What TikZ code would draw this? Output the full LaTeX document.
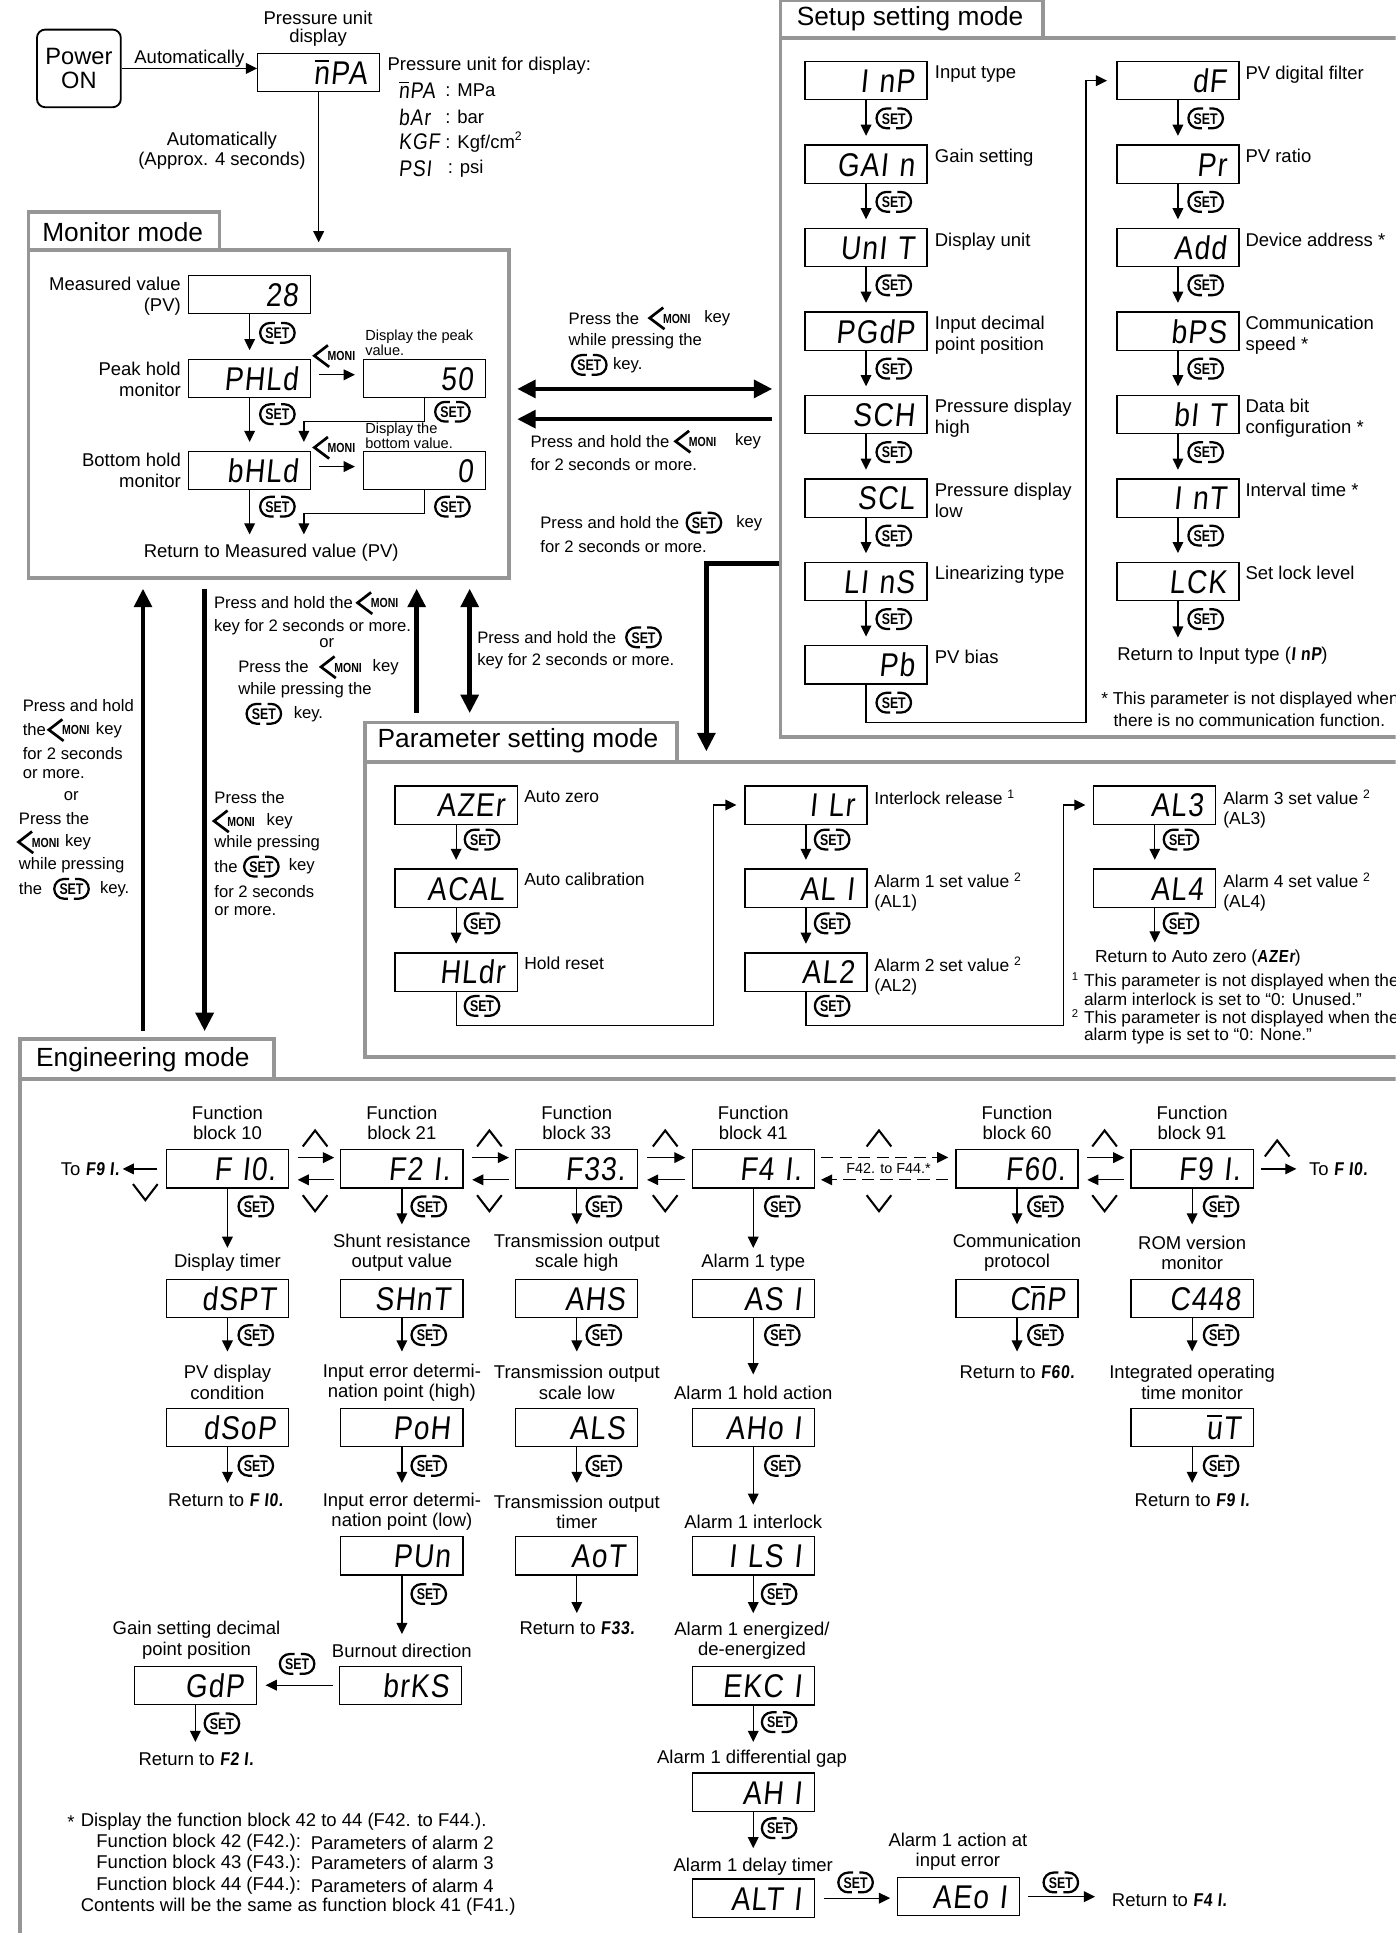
\documentclass[tikz,border=0pt]{standalone}
\usepackage{fontspec}
\setmainfont{Liberation Sans}
\newfontfamily\segfont[FakeSlant=0.1,FakeStretch=0.85,LetterSpace=4]{Liberation Sans}
\newfontfamily\keyfont[FakeStretch=0.8]{Liberation Sans}
\usetikzlibrary{arrows.meta,fit,calc}
\definecolor{framegray}{RGB}{150,150,150}
\newcommand\nbar{\leavevmode\rlap{\kern0.03em\rule[0.68em]{0.44em}{0.06em}}n}
\newcommand\ubar{\leavevmode\rlap{\kern0.03em\rule[0.68em]{0.44em}{0.06em}}u}
\newcommand\sg[1]{{\segfont\bfseries #1}}
\tikzset{
  tT/.tip={Triangle[length=5.4pt,width=5.2pt]},
  TT/.tip={Triangle[length=9pt,width=8.5pt]},
  arr/.style={line width=0.6pt,-tT},
  ln/.style={line width=0.6pt},
  tharr/.style={line width=2.2pt,-TT},
  tharrb/.style={line width=2.2pt,TT-TT},
  disp/.style={draw,line width=0.6pt,minimum width=59.4pt,minimum height=18.6pt,inner sep=0pt,text width=47pt,align=right,text height=11.6pt,text depth=0pt,font=\segfont\fontsize{16}{16}\selectfont},
  frame/.style={draw=framegray,line width=1.8pt,inner sep=0pt},
  title/.style={anchor=west,inner sep=0pt,font=\fontsize{12.8}{14}\selectfont},
  lab/.style={inner sep=0pt,align=center,font=\fontsize{9}{9.8}\selectfont},
  labl/.style={inner sep=0pt,align=left,anchor=north west,font=\fontsize{9}{10.2}\selectfont},
  plab/.style={inner sep=0pt,align=left,anchor=north west,font=\fontsize{8.5}{9.6}\selectfont},
  ann/.style={inner sep=0pt,anchor=west,font=\fontsize{8.1}{9}\selectfont},
  small/.style={inner sep=0pt,align=left,anchor=west,font=\fontsize{7.1}{7.2}\selectfont},
  fn/.style={inner sep=0pt,anchor=west,font=\fontsize{8.4}{8.4}\selectfont},
  segi/.style={inner sep=0pt,anchor=west,font=\segfont\fontsize{11}{11}\selectfont},
  setk/.pic={
    \draw[line width=1.1pt] (-2,-8) -- (-6,-8) arc[start angle=-90,end angle=-270,radius=8] -- (-3,8);
    \draw[line width=1.1pt] (2,8) -- (6,8) arc[start angle=90,end angle=-90,radius=8] -- (3,-8);
    \node[inner sep=0pt,font={\keyfont\bfseries\fontsize{7.5}{7.5}\selectfont}] at (0,0.3) {SET};
  },
  moni/.pic={
    \draw[line width=1.3pt] (11,-8.5) -- (0,0) -- (12,9);
    \node[anchor=west,inner sep=0pt,font={\keyfont\bfseries\fontsize{6.4}{6.4}\selectfont}] at (10.5,0.5) {MONI};
  },
  upc/.pic={\draw[line width=1pt] (-10,6.5) -- (0,-6.5) -- (10,6.5);},
  dnc/.pic={\draw[line width=1pt] (-10,-6.5) -- (0,6.5) -- (10,-6.5);},
}
\begin{document}
\begin{tikzpicture}[x=0.6pt,y=-0.6pt]
\useasboundingbox (0,0) rectangle (1132,1568);
\clip (0,0) rectangle (1132,1568);

% ---------- frames ----------
\node[frame,fit={(23,203)(413,469)}] (monbox) {};
\node[frame,fit={(23,172)(178,203)}] (montab) {};
\node[title] at (34,188) {Monitor mode};
\node[frame,fit={(633,31)(1150,598)}] (setbox) {};
\node[frame,fit={(633,0)(846,31)}] (settab) {};
\node[title] at (646,15) {Setup setting mode};
\node[frame,fit={(296,618)(1150,857.5)}] (parbox) {};
\node[frame,fit={(296,586)(549,618)}] (partab) {};
\node[title] at (306,601) {Parameter setting mode};
\node[frame,fit={(16,875)(1150,1600)}] (engbox) {};
\node[frame,fit={(16,843)(222,875)}] (engtab) {};
\node[title] at (29,860) {Engineering mode};

% ---------- top ----------
\node[draw,line width=0.9pt,rounded corners=4pt,minimum width=40.8pt,minimum height=37.8pt,inner sep=0pt,align=center,font=\fontsize{11.5}{12}\selectfont] (pwr) at (64,55.5) {Power\\ON};
\node[disp] (mpa) at (258.5,59) {\nbar PA};
\node[lab,font=\fontsize{9}{8.9}\selectfont] at (258,23.5) {Pressure unit\\display};
\draw[arr] (pwr.east) -- (pwr.east -| mpa.west) node[midway,above=0.4pt,lab] {Automatically};
\draw[arr,shorten >=3pt] (mpa.south) -- (mpa.south |- monbox.north);
\node[lab,font=\fontsize{9}{9.6}\selectfont] at (180,122) {Automatically\\(Approx. 4 seconds)};
\node[lab,anchor=west] at (314,53) {Pressure unit for display:};
\node[segi] at (323,73) {\nbar PA}; \node[lab,anchor=west] at (361,73) {: MPa};
\node[segi] at (323,95) {bAr}; \node[lab,anchor=west] at (361,95) {: bar};
\node[segi] at (323,115) {KGF}; \node[lab,anchor=west] at (361,115) {: Kgf/cm\textsuperscript{2}};
\node[segi] at (323,137) {PSI}; \node[lab,anchor=west] at (363,137) {: psi};

% ---------- monitor mode ----------
\node[disp] (pv) at (202.5,239) {28};
\node[disp] (phld) at (202.5,307) {PHLd};
\node[disp] (bhld) at (202.5,381.5) {bHLd};
\node[disp] (peak) at (344.5,307) {50};
\node[disp] (bot) at (344.5,381.5) {0};
\node[lab,align=right,anchor=east,font=\fontsize{9}{10.2}\selectfont] at (147,240.5) {Measured value\\(PV)};
\node[lab,align=right,anchor=east,font=\fontsize{9}{10.2}\selectfont] at (147,307.5) {Peak hold\\monitor};
\node[lab,align=right,anchor=east,font=\fontsize{9}{10.2}\selectfont] at (147,381.5) {Bottom hold\\monitor};
\draw[arr,shorten >=4.2pt] (pv.south) -- (phld.north);
\pic at (225,270) {setk};
\draw[arr,shorten >=4.2pt] (phld.south) -- (bhld.north);
\pic at (225,336) {setk};
\draw[arr,shorten <=3.6pt,shorten >=4pt] ([yshift=1.8pt]phld.east) -- ([yshift=1.8pt]peak.west);
\pic at (255,288.6) {moni};
\node[small] at (296,278) {Display the peak\\value.};
\draw[arr,shorten <=3.6pt,shorten >=4pt] ([yshift=1.8pt]bhld.east) -- ([yshift=1.8pt]bot.west);
\pic at (255,363) {moni};
\node[small] at (296,353.5) {Display the\\bottom value.};
\draw[arr] (peak.south) -- ++(0,19) -| ([xshift=-3.6pt,yshift=4.2pt]bhld.north east);
\pic at (367,334) {setk};
\node[lab] (retpv) at (220,448) {Return to Measured value (PV)};
\draw[arr] (bhld.south) -- ++(0,36);
\pic at (225,411) {setk};
\draw[arr] (bot.south) -- ++(0,19) -| ($(bhld.south east)+(-6,36)$);
\pic at (367,411) {setk};

% ---------- mode transitions ----------
\draw[tharrb,shorten <=3pt,shorten >=3pt] (monbox.east |- 0,315.5) -- (setbox.west |- 0,315.5);
\draw[tharr,shorten <=3pt,shorten >=3pt] (setbox.west |- 0,340) -- (monbox.east |- 0,340);
\draw[tharr,shorten >=4.2pt] (setbox.west |- 0,457) -| (parbox.north -| 573,0);
\node[ann] at (461,258) {Press the}; \pic at (527,258) {moni}; \node[ann] at (571,258) {key};
\node[ann] at (461,277) {while pressing the};
\pic at (478,296) {setk}; \node[ann] at (497,296) {key.};
\node[ann] at (430,358) {Press and hold the}; \pic at (548,358) {moni}; \node[ann] at (596,358) {key};
\node[ann] at (430,377) {for 2 seconds or more.};
\node[ann] at (438,424) {Press and hold the}; \pic at (571,424) {setk}; \node[ann] at (597,424) {key};
\node[ann] at (438,443) {for 2 seconds or more.};

\draw[tharr,shorten <=3pt,shorten >=4.2pt] (engtab.north -| 116,0) -- (monbox.south -| 116,0);
\draw[tharr,shorten <=4.2pt,shorten >=3pt] (monbox.south -| 166,0) -- (engtab.north -| 166,0);
\draw[tharr,shorten <=3.6pt,shorten >=4.2pt] (partab.north -| 338,0) -- (monbox.south -| 338,0);
\draw[tharrb,shorten <=4.2pt,shorten >=3.6pt] (monbox.south -| 381,0) -- (partab.north -| 381,0);

\node[ann] at (18.2,572) {Press and hold};
\node[ann] at (18.2,592) {the}; \pic at (39.6,592) {moni}; \node[ann] at (77.5,592) {key};
\node[ann] at (18.2,611) {for 2 seconds};
\node[ann] at (18.2,628) {or more.};
\node[ann,anchor=center] at (57.8,646) {or};
\node[ann] at (15,664) {Press the};
\pic at (15,683) {moni}; \node[ann] at (52.5,683) {key};
\node[ann] at (15,702) {while pressing};
\node[ann] at (15,721) {the}; \pic at (58,721) {setk}; \node[ann] at (80.8,721) {key.};

\node[ann] at (173.6,647) {Press the};
\pic at (173.6,666) {moni}; \node[ann] at (216,666) {key};
\node[ann] at (173.6,684) {while pressing};
\node[ann] at (173.6,703) {the}; \pic at (212,703) {setk}; \node[ann] at (234,703) {key};
\node[ann] at (173.6,723) {for 2 seconds};
\node[ann] at (173.6,739) {or more.};

\node[ann] at (173.3,489) {Press and hold the}; \pic at (290,489) {moni};
\node[ann] at (173.3,509) {key for 2 seconds or more.};
\node[ann,anchor=center] at (265,522) {or};
\node[ann] at (193,541) {Press the}; \pic at (260.4,541) {moni}; \node[ann] at (302,541) {key};
\node[ann] at (193,560) {while pressing the};
\pic at (214,579) {setk}; \node[ann] at (238,579) {key.};

\node[ann] at (386.8,517) {Press and hold the}; \pic at (522,517) {setk};
\node[ann] at (386.8,536) {key for 2 seconds or more.};

% ---------- setup setting mode ----------
\node[disp] (inp) at (702.5,65.5) {I nP};
\node[disp] (gain) at (702.5,133.2) {GAI n};
\node[disp] (unit) at (702.5,200.9) {UnI T};
\node[disp] (pgdp) at (702.5,268.6) {PGdP};
\node[disp] (sch) at (702.5,336.3) {SCH};
\node[disp] (scl) at (702.5,404) {SCL};
\node[disp] (lins) at (702.5,471.7) {LI nS};
\node[disp] (pb) at (702.5,539.4) {Pb};
\node[disp] (df) at (955.5,65.5) {dF};
\node[disp] (pr) at (955.5,133.2) {Pr};
\node[disp] (add) at (955.5,200.9) {Add};
\node[disp] (bps) at (955.5,268.6) {bPS};
\node[disp] (bit) at (955.5,336.3) {bI T};
\node[disp] (int) at (955.5,404) {I nT};
\node[disp] (lck) at (955.5,471.7) {LCK};
\node[labl] at (758,53) {Input type};
\node[labl] at (758,120.7) {Gain setting};
\node[labl] at (758,188.4) {Display unit};
\node[labl] at (758,256.1) {Input decimal\\point position};
\node[labl] at (758,323.8) {Pressure display\\high};
\node[labl] at (758,391.5) {Pressure display\\low};
\node[labl] at (758,459.2) {Linearizing type};
\node[labl] at (758,526.9) {PV bias};
\node[labl] at (1010,53) {PV digital filter};
\node[labl] at (1010,120.7) {PV ratio};
\node[labl] at (1010,188.4) {Device address *};
\node[labl] at (1010,256.1) {Communication\\speed *};
\node[labl] at (1010,323.8) {Data bit\\configuration *};
\node[labl] at (1010,391.5) {Interval time *};
\node[labl] at (1010,459.2) {Set lock level};
\draw[arr,shorten >=4.2pt] (inp.south) -- (gain.north); \pic at (725,96) {setk};
\draw[arr,shorten >=4.2pt] (gain.south) -- (unit.north); \pic at (725,163.7) {setk};
\draw[arr,shorten >=4.2pt] (unit.south) -- (pgdp.north); \pic at (725,231.4) {setk};
\draw[arr,shorten >=4.2pt] (pgdp.south) -- (sch.north); \pic at (725,299.1) {setk};
\draw[arr,shorten >=4.2pt] (sch.south) -- (scl.north); \pic at (725,366.8) {setk};
\draw[arr,shorten >=4.2pt] (scl.south) -- (lins.north); \pic at (725,434.5) {setk};
\draw[arr,shorten >=4.2pt] (lins.south) -- (pb.north); \pic at (725,502.2) {setk};
\draw[arr,shorten >=4.5pt] (pb.south) |- (881,586) |- (df.west); \pic at (725,570) {setk};
\draw[arr,shorten >=4.2pt] (df.south) -- (pr.north); \pic at (978,96) {setk};
\draw[arr,shorten >=4.2pt] (pr.south) -- (add.north); \pic at (978,163.7) {setk};
\draw[arr,shorten >=4.2pt] (add.south) -- (bps.north); \pic at (978,231.4) {setk};
\draw[arr,shorten >=4.2pt] (bps.south) -- (bit.north); \pic at (978,299.1) {setk};
\draw[arr,shorten >=4.2pt] (bit.south) -- (int.north); \pic at (978,366.8) {setk};
\draw[arr,shorten >=4.2pt] (int.south) -- (lck.north); \pic at (978,434.5) {setk};
\draw[arr] (lck.south) -- ++(0,29.5); \pic at (978,502.2) {setk};
\node[lab,anchor=west] at (906,531.5) {Return to Input type (\sg{I nP})};
\node[fn] at (893,568) {* This parameter is not displayed when};
\node[fn] at (903,584) {there is no communication function.};

% ---------- parameter setting mode ----------
\node[disp] (azer) at (370,653) {AZEr};
\node[disp] (acal) at (370,720.5) {ACAL};
\node[disp] (hldr) at (370,788.5) {HLdr};
\node[disp] (ilr) at (653.75,653) {I Lr};
\node[disp] (al1) at (653.75,720.5) {AL I};
\node[disp] (al2) at (653.75,788.5) {AL2};
\node[disp] (al3) at (936.75,653) {AL3};
\node[disp] (al4) at (936.75,720.5) {AL4};
\node[plab] at (425,640.5) {Auto zero};
\node[plab] at (425,708) {Auto calibration};
\node[plab] at (425,776) {Hold reset};
\node[plab] at (709,640.5) {Interlock release \textsuperscript{1}};
\node[plab] at (709,708) {Alarm 1 set value \textsuperscript{2}\\(AL1)};
\node[plab] at (709,776) {Alarm 2 set value \textsuperscript{2}\\(AL2)};
\node[plab] at (992,640.5) {Alarm 3 set value \textsuperscript{2}\\(AL3)};
\node[plab] at (992,708) {Alarm 4 set value \textsuperscript{2}\\(AL4)};
\draw[arr,shorten >=4.2pt] (azer.south) -- (acal.north); \pic at (391,681) {setk};
\draw[arr,shorten >=4.2pt] (acal.south) -- (hldr.north); \pic at (391,749) {setk};
\draw[arr,shorten >=3.8pt] (hldr.south) |- (578.5,832) |- (ilr.west); \pic at (391,816) {setk};
\draw[arr,shorten >=4.2pt] (ilr.south) -- (al1.north); \pic at (675,681) {setk};
\draw[arr,shorten >=4.2pt] (al1.south) -- (al2.north); \pic at (675,749) {setk};
\draw[arr,shorten >=3.8pt] (al2.south) |- (862.6,832) |- (al3.west); \pic at (675,816) {setk};
\draw[arr,shorten >=4.2pt] (al3.south) -- (al4.north); \pic at (958,681) {setk};
\draw[arr] (al4.south) -- ++(0,28); \pic at (958,749) {setk};
\node[plab,anchor=west] at (888,777) {Return to Auto zero (\sg{AZEr})};
\node[inner sep=0pt,font=\fontsize{5.5}{5.5}\selectfont] at (872,792) {1};
\node[fn] at (879,797) {This parameter is not displayed when the};
\node[fn] at (879,810.7) {alarm interlock is set to “0: Unused.”};
\node[inner sep=0pt,font=\fontsize{5.5}{5.5}\selectfont] at (872,822) {2};
\node[fn] at (879,827) {This parameter is not displayed when the};
\node[fn] at (879,840.7) {alarm type is set to “0: None.”};

% ---------- engineering mode ----------
\node[disp] (f10) at (184.5,948.2) {F I0.};
\node[disp] (f21) at (326,948.2) {F2 I.};
\node[disp] (f33) at (467.9,948.2) {F33.};
\node[disp] (f41) at (611,948.2) {F4 I.};
\node[disp] (f60) at (825,948.2) {F60.};
\node[disp] (f91) at (967,948.2) {F9 I.};
\node[disp] (dspt) at (184.5,1053.3) {dSPT};
\node[disp] (shnt) at (326,1053.3) {SHnT};
\node[disp] (ahs) at (467.9,1053.3) {AHS};
\node[disp] (as1) at (611,1053.3) {AS I};
\node[disp] (cmp) at (825,1053.3) {C\nbar P};
\node[disp] (c448) at (967,1053.3) {C448};
\node[disp] (dsop) at (184.5,1157.9) {dSoP};
\node[disp] (poh) at (326,1157.9) {PoH};
\node[disp] (als) at (467.9,1157.9) {ALS};
\node[disp] (aho1) at (611,1157.9) {AHo I};
\node[disp] (ut) at (967,1157.9) {\ubar T};
\node[disp] (pun) at (326,1262) {PUn};
\node[disp] (aot) at (467.9,1262) {AoT};
\node[disp] (ils1) at (611,1262) {I LS I};
\node[disp] (gdp) at (158.5,1367) {GdP};
\node[disp] (brks) at (324.8,1367) {brKS};
\node[disp] (ekc1) at (611,1367.5) {EKC I};
\node[disp] (ah1) at (611,1453.7) {AH I};
\node[disp] (alt1) at (611,1539.7) {ALT I};
\node[disp] (aeo1) at (777.5,1538.5) {AEo I};

\node[lab] at (184.5,911) {Function\\block 10};
\node[lab] at (326,911) {Function\\block 21};
\node[lab] at (467.9,911) {Function\\block 33};
\node[lab] at (611,911) {Function\\block 41};
\node[lab] at (825,911) {Function\\block 60};
\node[lab] at (967,911) {Function\\block 91};
\node[lab] at (184.5,1024.6) {Display timer};
\node[lab] at (326,1016.5) {Shunt resistance\\output value};
\node[lab] at (467.9,1016.5) {Transmission output\\scale high};
\node[lab] at (611,1024.6) {Alarm 1 type};
\node[lab] at (825,1016.5) {Communication\\protocol};
\node[lab] at (967,1016.5) {ROM version\\monitor};
\node[lab] at (184.5,1121.3) {PV display\\condition};
\node[lab] at (326,1121.3) {Input error determi-\\nation point (high)};
\node[lab] at (467.9,1121.3) {Transmission output\\scale low};
\node[lab] at (611,1129.6) {Alarm 1 hold action};
\node[lab] at (825,1113) {Return to \sg{F60.}};
\node[lab] at (967,1121.3) {Integrated operating\\time monitor};
\node[lab] at (183,1217.2) {Return to \sg{F I0.}};
\node[lab] at (326,1226.3) {Input error determi-\\nation point (low)};
\node[lab] at (467.9,1226.3) {Transmission output\\timer};
\node[lab] at (611,1234.3) {Alarm 1 interlock};
\node[lab] at (967,1217.2) {Return to \sg{F9 I.}};
\node[lab] at (468,1321) {Return to \sg{F33.}};
\node[lab] at (159.4,1330.5) {Gain setting decimal\\point position};
\node[lab] at (326,1339) {Burnout direction};
\node[lab] at (610,1331) {Alarm 1 energized/\\de-energized};
\node[lab] at (159,1426.7) {Return to \sg{F2 I.}};
\node[lab] at (610,1426.7) {Alarm 1 differential gap};
\node[lab] at (611,1514.2) {Alarm 1 delay timer};
\node[lab] at (777,1502) {Alarm 1 action at\\input error};
\node[lab,anchor=west] (rf41) at (901.6,1541.8) {Return to \sg{F4 I.}};

% vertical arrows
\draw[arr] (f10.south) -- ++(0,48); \pic at (207.5,978.6) {setk};
\draw[arr] (f21.south) -- ++(0,29); \pic at (347.8,978.6) {setk};
\draw[arr] (f33.south) -- ++(0,29); \pic at (489.8,978.6) {setk};
\draw[arr] (f41.south) -- ++(0,48); \pic at (634.6,978.6) {setk};
\draw[arr] (f60.south) -- ++(0,29); \pic at (848,978.6) {setk};
\draw[arr] (f91.south) -- ++(0,29); \pic at (990.5,978.6) {setk};
\draw[arr] (dspt.south) -- ++(0,27); \pic at (207.5,1083) {setk};
\draw[arr] (shnt.south) -- ++(0,27); \pic at (347.8,1083) {setk};
\draw[arr] (ahs.south) -- ++(0,27); \pic at (489.8,1083) {setk};
\draw[arr] (as1.south) -- ++(0,45.5); \pic at (634.6,1083) {setk};
\draw[arr] (cmp.south) -- ++(0,27); \pic at (848,1083) {setk};
\draw[arr] (c448.south) -- ++(0,27); \pic at (990.5,1083) {setk};
\draw[arr] (dsop.south) -- ++(0,29); \pic at (207.5,1189) {setk};
\draw[arr] (poh.south) -- ++(0,29); \pic at (347.8,1189) {setk};
\draw[arr] (als.south) -- ++(0,29); \pic at (489.8,1189) {setk};
\draw[arr] (aho1.south) -- ++(0,46.6); \pic at (634.6,1189) {setk};
\draw[arr] (ut.south) -- ++(0,29); \pic at (990.5,1189) {setk};
\draw[arr] (pun.south) -- ++(0,47.5); \pic at (347.8,1293) {setk};
\draw[arr] (aot.south) -- ++(0,30.5);
\draw[arr] (ils1.south) -- ++(0,30.5); \pic at (632,1293) {setk};
\draw[arr,shorten <=3pt,shorten >=4.2pt] (brks.west) -- (gdp.east); \pic at (241,1349.7) {setk};
\draw[arr] (gdp.south) -- ++(0,30); \pic at (180,1398) {setk};
\draw[arr] (ekc1.south) -- ++(0,29.5); \pic at (632,1397) {setk};
\draw[arr] (ah1.south) -- ++(0,29.5); \pic at (632,1483) {setk};
\draw[arr,shorten <=4.5pt,shorten >=3.3pt] (alt1.east) -- (alt1.east -| aeo1.west); \pic at (694,1527) {setk};
\draw[arr,shorten <=4pt,shorten >=8pt] (aeo1.east) -- (aeo1.east -| rf41.west); \pic at (860.5,1527) {setk};

% horizontal block arrows
\draw[arr,shorten <=4.2pt,shorten >=3pt] ([yshift=5.5pt]f10.east) -- ([yshift=5.5pt]f21.west);
\draw[arr,shorten <=3pt,shorten >=4.2pt] ([yshift=-5.3pt]f21.west) -- ([yshift=-5.3pt]f10.east);
\draw[arr,shorten <=4.2pt,shorten >=3pt] ([yshift=5.5pt]f21.east) -- ([yshift=5.5pt]f33.west);
\draw[arr,shorten <=3pt,shorten >=4.2pt] ([yshift=-5.3pt]f33.west) -- ([yshift=-5.3pt]f21.east);
\draw[arr,shorten <=4.2pt,shorten >=3pt] ([yshift=5.5pt]f33.east) -- ([yshift=5.5pt]f41.west);
\draw[arr,shorten <=3pt,shorten >=4.2pt] ([yshift=-5.3pt]f41.west) -- ([yshift=-5.3pt]f33.east);
\draw[arr,dash pattern=on 6pt off 3pt,shorten <=3pt,shorten >=3.5pt] ([yshift=5.6pt]f41.east) -- ([yshift=5.6pt]f60.west);
\draw[arr,dash pattern=on 6pt off 3pt,shorten <=3.5pt,shorten >=3pt] ([yshift=-5.3pt]f60.west) -- ([yshift=-5.3pt]f41.east);
\node[inner sep=1pt,font=\fontsize{7}{7}\selectfont] at (720.8,947.6) {F42. to F44.*};
\draw[arr,shorten <=4.2pt,shorten >=3pt] ([yshift=5.5pt]f60.east) -- ([yshift=5.5pt]f91.west);
\draw[arr,shorten <=3pt,shorten >=4.2pt] ([yshift=-5.3pt]f91.west) -- ([yshift=-5.3pt]f60.east);
\pic at (255.6,923.5) {upc}; \pic at (255.6,976) {dnc};
\pic at (397,923.5) {upc}; \pic at (397,976) {dnc};
\pic at (539.6,923.5) {upc}; \pic at (539.6,976) {dnc};
\pic at (713,923.5) {upc}; \pic at (713,976) {dnc};
\pic at (896,923.5) {upc}; \pic at (896,976) {dnc};
\pic at (117.9,967) {dnc};
\pic at (1036,931.6) {upc};
\node[lab,anchor=east] (tof91) at (97,948) {To \sg{F9 I.}};
\draw[arr,shorten <=4.2pt,shorten >=1.5pt] (f10.west) -- (f10.west -| tof91.east);
\node[lab,anchor=west] (tof10) at (1061.6,948) {To \sg{F I0.}};
\draw[arr,shorten <=3.5pt,shorten >=6pt] (f91.east) -- (f91.east -| tof10.west);

% footnote
\node[lab,anchor=west] at (54.3,1477.7) {*};
\node[lab,anchor=west] at (65.2,1477.7) {Display the function block 42 to 44 (F42. to F44.).};
\node[lab,anchor=west] at (77.9,1494.5) {Function block 42 (F42.):};
\node[lab,anchor=west] at (251.8,1494.5) {Parameters of alarm 2};
\node[lab,anchor=west] at (77.9,1511.5) {Function block 43 (F43.):};
\node[lab,anchor=west] at (251.8,1511.5) {Parameters of alarm 3};
\node[lab,anchor=west] at (77.9,1529.6) {Function block 44 (F44.):};
\node[lab,anchor=west] at (251.8,1529.6) {Parameters of alarm 4};
\node[lab,anchor=west] at (65.2,1546.4) {Contents will be the same as function block 41 (F41.)};
\end{tikzpicture}
\end{document}
